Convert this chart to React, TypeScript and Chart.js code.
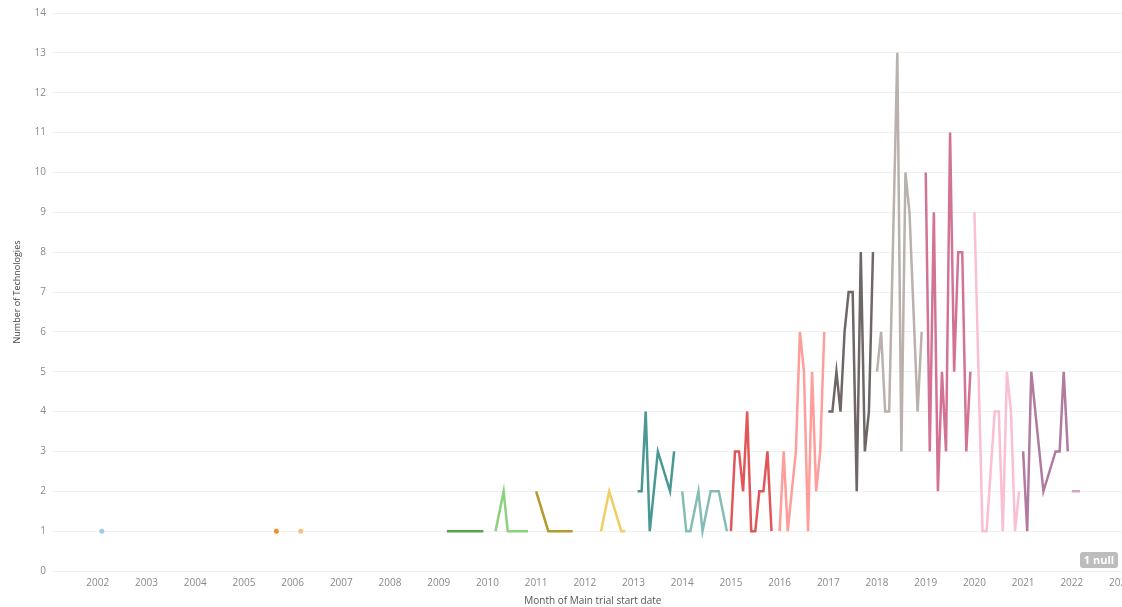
import React, { useEffect, useRef } from "react";
import { Chart, registerables } from "chart.js";

Chart.register(...registerables);

// Years that have data (one coloured line per year), values by month Jan..Dec (null = no data)
const seriesYears = [2002, 2005, 2006, 2009, 2010, 2011, 2012, 2013, 2014, 2015, 2016, 2017, 2018, 2019, 2020, 2021, 2022];
const seriesColors = [
  "#a0cbe8", "#f28e2b", "#ffbe7d", "#59a14f", "#8cd17d", "#b6992d", "#f1ce63", "#499894",
  "#86bcb6", "#e15759", "#ff9d9a", "#6e6765", "#bab0ac", "#d37295", "#fabfd2", "#b07aa1", "#d4a6c8",
];

const v2002 = [null, 1, null, null, null, null, null, null, null, null, null, null];
const v2005 = [null, null, null, null, null, null, null, null, 1, null, null, null];
const v2006 = [null, null, 1, null, null, null, null, null, null, null, null, null];
const v2009 = [null, null, 1, 1, 1, 1, 1, 1, 1, 1, 1, 1];
const v2010 = [null, null, 1, null, 2, 1, 1, 1, 1, 1, 1, null];
const v2011 = [2, null, null, 1, 1, 1, 1, 1, 1, 1, null, null];
const v2012 = [null, null, null, null, 1, null, 2, null, null, 1, 1, null];
const v2013 = [null, 2, 2, 4, 1, null, 3, null, null, 2, 3, null];
const v2014 = [2, 1, 1, null, 2, 1, null, 2, 2, 2, null, 1];
const v2015 = [1, 3, 3, 2, 4, 1, 1, 2, 2, 3, 1, null];
const v2016 = [1, 3, 1, null, 3, 6, 5, 1, 5, 2, 3, 6];
const v2017 = [4, 4, 5, 4, 6, 7, 7, 2, 8, 3, 4, 8];
const v2018 = [5, 6, 4, 4, null, 13, 3, 10, 9, null, 4, 6];
const v2019 = [10, 3, 9, 2, 5, 3, 11, 5, 8, 8, 3, 5];
const v2020 = [9, null, 1, 1, null, 4, 4, 1, 5, 4, 1, 2];
const v2021 = [3, 1, 5, null, null, 2, null, null, 3, 3, 5, 3];
const v2022 = [2, 2, 2, null, null, null, null, null, null, null, null, null];

const yearValues = [v2002, v2005, v2006, v2009, v2010, v2011, v2012, v2013, v2014, v2015, v2016, v2017, v2018, v2019, v2020, v2021, v2022];

const xTickYears = [2002, 2003, 2004, 2005, 2006, 2007, 2008, 2009, 2010, 2011, 2012, 2013, 2014, 2015, 2016, 2017, 2018, 2019, 2020, 2021, 2022, 2023];
const yTickValues = [0, 1, 2, 3, 4, 5, 6, 7, 8, 9, 10, 11, 12, 13, 14];

const X_MIN = 2001.08;
const X_MAX = 2023.25;
const FONT = "'Open Sans', 'Noto Sans', sans-serif";

function toPoints(year: number, values: (number | null)[]) {
  const pts: { x: number; y: number }[] = [];
  values.forEach((v, i) => {
    if (v !== null) pts.push({ x: year + i / 12, y: v });
  });
  return pts;
}

export default function App() {
  const canvasRef = useRef<HTMLCanvasElement | null>(null);

  useEffect(() => {
    if (!canvasRef.current) return;
    const datasets = seriesYears.map((yr, idx) => {
      const pts = toPoints(yr, yearValues[idx]);
      const single = pts.length === 1;
      return {
        label: String(yr),
        data: pts,
        borderColor: seriesColors[idx],
        backgroundColor: seriesColors[idx],
        borderWidth: 2.5,
        tension: 0,
        pointRadius: single ? 2.5 : 0,
        pointBorderWidth: 0,
        pointHoverRadius: 0,
        fill: false,
      };
    });

    const chart = new Chart(canvasRef.current, {
      type: "line",
      data: { datasets },
      options: {
        animation: false,
        responsive: false,
        layout: { padding: { left: 0, right: 0, top: 0, bottom: 0 } },
        plugins: {
          legend: { display: false },
          tooltip: { enabled: false },
        },
        scales: {
          x: {
            type: "linear",
            min: X_MIN,
            max: X_MAX,
            grid: { display: false, drawTicks: false },
            border: { display: false },
            afterBuildTicks: (scale: any) => {
              scale.ticks = xTickYears.map((v) => ({ value: v }));
            },
            afterFit: (scale: any) => {
              scale.height = 36;
            },
            ticks: {
              autoSkip: false,
              maxRotation: 0,
              padding: 6,
              color: "#8a8a8a",
              font: { family: FONT, size: 10 },
              callback: (v: any) => String(v),
            },
            title: {
              display: true,
              text: "Month of Main trial start date",
              color: "#555555",
              font: { family: FONT, size: 10 },
              padding: { top: 0, bottom: 0 },
            },
          },
          y: {
            type: "linear",
            min: 0,
            max: 14,
            afterBuildTicks: (scale: any) => {
              scale.ticks = yTickValues.map((v) => ({ value: v }));
            },
            afterFit: (scale: any) => {
              scale.width = 53;
            },
            grid: { color: "#f0f0f0", lineWidth: 1, drawTicks: false },
            border: { display: false },
            ticks: {
              padding: 7,
              color: "#8a8a8a",
              font: { family: FONT, size: 10 },
              callback: (v: any) => String(v),
            },
            title: {
              display: true,
              text: "Number of Technologies",
              color: "#444444",
              font: { family: FONT, size: 9 },
              padding: { top: 12, bottom: 0 },
            },
          },
        },
      },
    });
    return () => chart.destroy();
  }, []);

  return (
    <div style={{ position: "fixed", left: 0, top: 0, width: 1122, height: 607, overflow: "hidden", background: "#ffffff" }}>
      <canvas ref={canvasRef} width={1138} height={607} style={{ width: 1138, height: 607, display: "block" }} />
      <div
        style={{
          position: "absolute",
          left: 1080,
          top: 552,
          width: 38,
          height: 16,
          lineHeight: "16px",
          background: "#bdbdbd",
          borderRadius: 3,
          color: "#ffffff",
          fontFamily: FONT,
          fontWeight: 700,
          fontSize: 11,
          textAlign: "center",
        }}
      >
        1 null
      </div>
    </div>
  );
}
